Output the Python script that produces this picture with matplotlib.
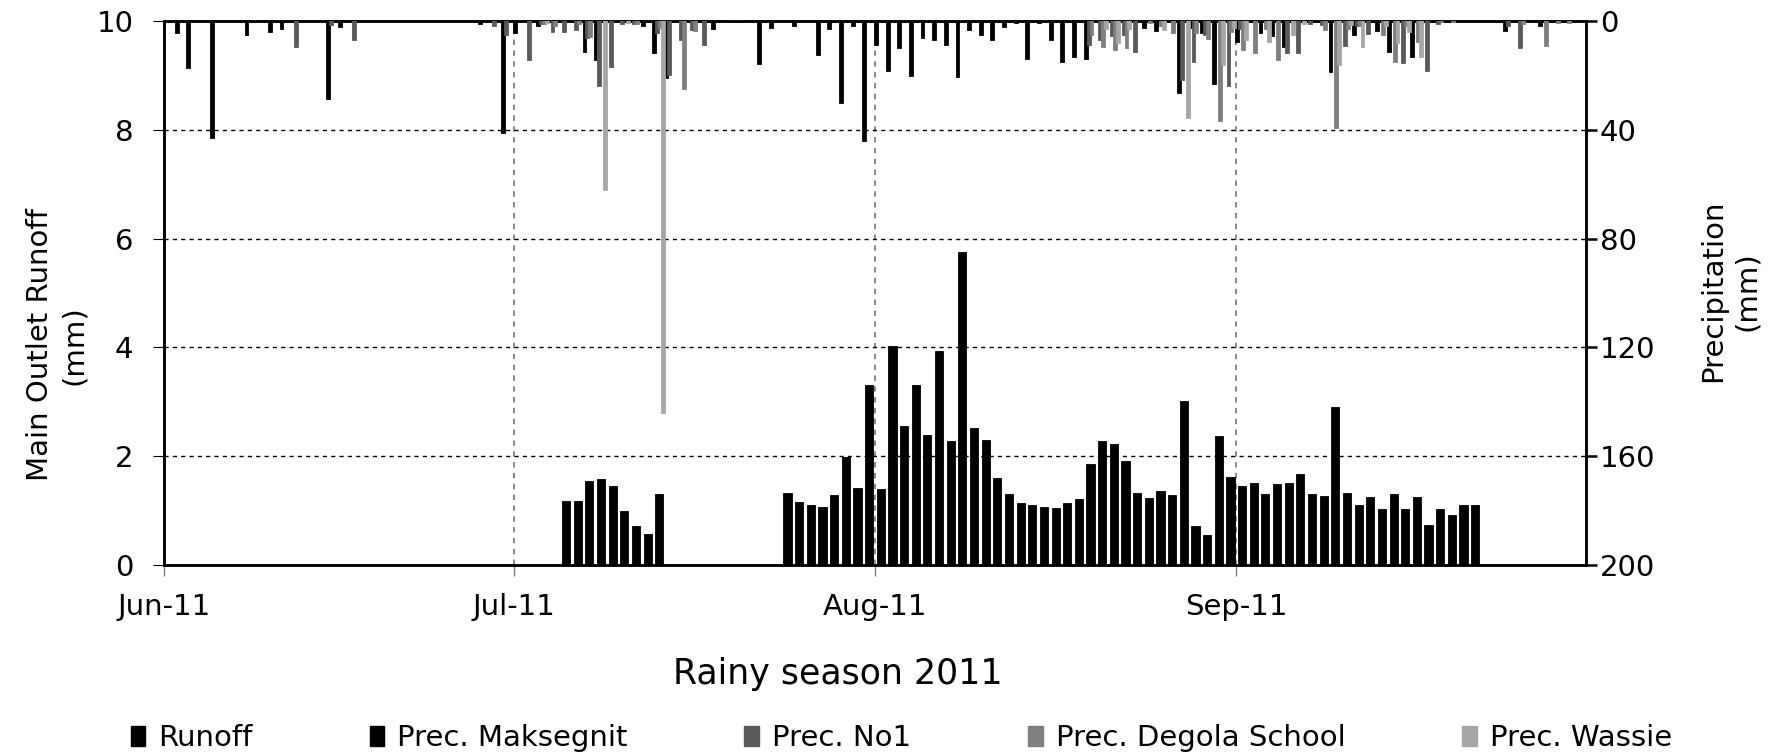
import numpy as np
import pandas as pd
import matplotlib
matplotlib.use('Agg')
import matplotlib.pyplot as plt
from matplotlib.patches import Patch

plt.rcParams['font.family'] = ['DejaVu Sans']
plt.rcParams['font.size'] = 21

# season window and month ticks
season_start = pd.Timestamp('2011-06-01')
season_days = 122  # Jun 1 -> Oct 1
month_ticks = ['06-01', '07-01', '08-01', '09-01']
month_labels = ['Jun-11', 'Jul-11', 'Aug-11', 'Sep-11']

# RUNOFF at the main outlet (mm/day), two recorded stretches
runoff_a_start = '07-05'
runoff_a = [1.18, 1.18, 1.55, 1.58, 1.45, 0.99, 0.72, 0.57, 1.30]
runoff_b_start = '07-24'
runoff_b = [1.32, 1.15, 1.10, 1.06, 1.29, 1.99, 1.41, 3.31,
            1.39, 4.03, 2.55, 3.30, 2.38, 3.93, 2.27, 5.75, 2.52, 2.30, 1.60, 1.30,
            1.14, 1.10, 1.07, 1.04, 1.14, 1.21, 1.85, 2.27, 2.23, 1.92, 1.33, 1.24,
            1.36, 1.28, 3.02, 0.71, 0.56, 2.37, 1.61,
            1.46, 1.51, 1.31, 1.48, 1.51, 1.68, 1.30, 1.27, 2.91, 1.32, 1.11, 1.25,
            1.02, 1.30, 1.02, 1.25, 0.74, 1.03, 0.92, 1.11, 1.11]

# PRECIPITATION per station (mm/day)
maksegnit_dates = ['06-02', '06-03', '06-05', '06-08', '06-10', '06-11', '06-15', '06-16',
                   '06-28', '06-30', '07-01', '07-03', '07-07', '07-08', '07-12', '07-13',
                   '07-14', '07-18', '07-20', '07-22', '07-23', '07-25', '07-27', '07-28',
                   '07-29', '07-30', '07-31', '08-01', '08-02', '08-03', '08-04', '08-05',
                   '08-06', '08-07', '08-08', '08-09', '08-10', '08-11', '08-12', '08-13',
                   '08-14', '08-15', '08-16', '08-17', '08-18', '08-19', '08-24', '08-25',
                   '08-27', '08-28', '08-29', '08-30', '09-01', '09-03', '09-04', '09-05',
                   '09-09', '09-11', '09-13', '09-14', '09-16', '09-24', '09-27']
maksegnit_mm = [4.5, 17.4, 43.0, 5.2, 4.2, 3.0, 28.7, 2.3,
                1.0, 41.0, 4.3, 2.0, 11.4, 14.4, 1.9, 11.6,
                21.0, 3.0, 0.5, 15.7, 2.7, 1.7, 12.4, 3.0,
                30.3, 1.8, 44.0, 8.7, 18.4, 10.0, 20.3, 6.4,
                7.1, 8.7, 20.7, 3.3, 5.2, 6.9, 2.2, 0.9,
                13.8, 0.8, 7.0, 15.2, 13.4, 14.0, 2.5, 3.5,
                26.3, 2.5, 4.5, 23.0, 7.9, 4.5, 5.4, 9.5,
                18.7, 5.2, 3.7, 11.5, 13.1, 3.5, 1.8]

no1_dates = ['06-12', '06-15', '06-17', '06-29', '06-30', '07-02', '07-03', '07-04',
             '07-05', '07-06', '07-07', '07-08', '07-09', '07-10', '07-11', '07-13',
             '07-14', '07-15', '07-16', '07-17', '08-19', '08-20', '08-21', '08-22',
             '08-23', '08-27', '08-28', '08-29', '08-31', '09-01', '09-05', '09-06',
             '09-07', '09-08', '09-10', '09-11', '09-12', '09-15', '09-17', '09-18',
             '09-24', '09-25']
no1_mm = [9.5, 1.5, 7.0, 1.8, 5.1, 14.5, 1.0, 4.0,
          4.2, 3.2, 6.3, 24.0, 16.8, 1.0, 1.0, 4.5,
          20.0, 7.0, 3.3, 8.7, 9.0, 7.0, 5.5, 5.0,
          11.5, 21.7, 15.2, 5.0, 24.0, 3.0, 11.9, 11.9,
          1.0, 1.5, 9.1, 2.0, 4.8, 15.6, 18.4, 1.0,
          2.0, 10.0]

degola_dates = ['07-03', '07-04', '07-06', '07-07', '07-11', '07-13', '07-15', '07-16',
                '08-19', '08-20', '08-21', '08-22', '08-24', '08-25', '08-26', '08-28',
                '08-29', '08-30', '08-31', '09-01', '09-02', '09-03', '09-04', '09-08',
                '09-09', '09-10', '09-11', '09-13', '09-14', '09-15', '09-16', '09-18',
                '09-19', '09-25', '09-27', '09-28', '09-29']
degola_mm = [1.0, 2.0, 1.0, 6.0, 1.0, 2.7, 25.0, 3.6,
             5.0, 9.5, 10.7, 10.0, 0.7, 2.0, 4.5, 4.5,
             6.7, 36.8, 4.0, 10.7, 11.9, 3.0, 14.4, 3.3,
             39.3, 3.0, 2.0, 5.2, 15.0, 2.0, 7.6, 0.5,
             0.5, 1.0, 9.2, 0.8, 0.8]

wassie_dates = ['07-03', '07-08', '07-10', '07-13', '08-20', '08-21', '08-22', '08-25',
                '08-27', '08-30', '08-31', '09-01', '09-03', '09-05', '09-06', '09-09',
                '09-10', '09-11', '09-13', '09-14', '09-15', '09-16']
wassie_mm = [0.8, 62.0, 0.8, 144.0, 3.0, 8.0, 3.0, 3.3,
             35.6, 16.0, 2.5, 7.0, 7.6, 5.0, 1.0, 16.2,
             1.5, 9.5, 2.0, 8.2, 3.9, 13.1]

stations = ['Prec. Maksegnit', 'Prec. No1', 'Prec. Degola School', 'Prec. Wassie']
station_colors = ['#000000', '#595959', '#7f7f7f', '#a6a6a6']


def day_index(dates):
  # days since start of season for 'MM-DD' strings
  stamps = pd.to_datetime(['2011-' + d for d in dates])
  return np.asarray((stamps - season_start).days, dtype=float)


fig = plt.figure(figsize=(17.92, 7.55), dpi=100)
ax = fig.add_axes([0.0915, 0.2517, 0.7935, 0.7205])
ax2 = ax.twinx()

# runoff columns on the left axis, centred inside each day
for start, vals in [(runoff_a_start, runoff_a), (runoff_b_start, runoff_b)]:
  x0 = day_index([start])[0]
  x = x0 + np.arange(len(vals)) + 0.5
  ax.bar(x, vals, width=0.7, color='black', edgecolor='black', linewidth=0.6, zorder=3)

# precipitation columns hang from the top on the reversed right axis
w = 0.25
series = [(maksegnit_dates, maksegnit_mm), (no1_dates, no1_mm),
          (degola_dates, degola_mm), (wassie_dates, wassie_mm)]
for k, (dates, vals) in enumerate(series):
  x = day_index(dates) + 0.5 + (k - 1.5) * w
  ax2.bar(x, vals, width=w, color=station_colors[k], edgecolor=station_colors[k],
          linewidth=1.3, zorder=3)

ax.set_xlim(0, season_days)
ax.set_ylim(0, 10)
ax2.set_ylim(200, 0)

ax.set_yticks(np.arange(0, 11, 2))
ax2.set_yticks(np.arange(0, 201, 40))
ax.set_xticks(day_index(month_ticks))
ax.set_xticklabels(month_labels)

ax.grid(axis='y', color='black', linestyle=(0, (3, 3)), linewidth=1.0)
ax.grid(axis='x', color='#808080', linestyle=(0, (3, 3)), linewidth=1.3)
ax.set_axisbelow(True)

for a in (ax, ax2):
  for s in a.spines.values():
    s.set_linewidth(1.8)
    s.set_color('black')

ax.tick_params(axis='y', direction='out', length=8, width=0.8, pad=14)
ax.tick_params(axis='x', direction='out', length=8, width=1.0, color='#808080', pad=12)
ax2.tick_params(axis='y', direction='out', length=8, width=1.8, pad=2)

fig.text(0.0318, 0.543, 'Main Outlet Runoff\n(mm)', rotation=90,
         ha='center', va='center', multialignment='center', linespacing=1.3)
fig.text(0.9655, 0.6146, 'Precipitation\n(mm)', rotation=90,
         ha='center', va='center', multialignment='center', linespacing=1.3)
fig.text(0.4677, 0.107, 'Rainy season 2011', ha='center', va='center', fontsize=25)

handles = [Patch(color='black', label='Runoff')]
handles += [Patch(color=c, label=n) for c, n in zip(station_colors, stations)]
fig.legend(handles=handles, loc='center', bbox_to_anchor=(0.503, 0.022), ncol=5,
           frameon=False, handlelength=0.5, handleheight=0.7, handletextpad=0.45,
           columnspacing=4.0, borderaxespad=0)

fig.savefig('out.png', dpi=100)
